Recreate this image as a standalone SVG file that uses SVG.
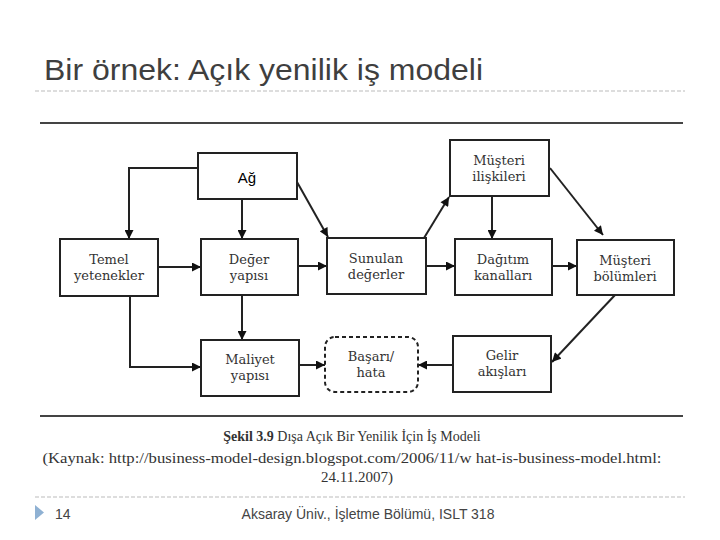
<svg xmlns="http://www.w3.org/2000/svg" width="720" height="540" viewBox="0 0 720 540">
<defs>
<marker id="ah" viewBox="0 0 10 10" refX="10" refY="5" markerWidth="10" markerHeight="9" markerUnits="userSpaceOnUse" orient="auto">
<path d="M0,0 L10,5 L0,10 z" fill="#111"/>
</marker>
<style>
.box{fill:#fff;stroke:#222;stroke-width:2}
.dash{fill:#fff;stroke:#222;stroke-width:2;stroke-dasharray:4 3}
.lbl{font-family:"DejaVu Serif","Liberation Serif",serif;font-size:13px;fill:#333;text-anchor:middle}
.con{fill:none;stroke:#222;stroke-width:2;marker-end:url(#ah)}
.rule{stroke:#444;stroke-width:2}
.sep{stroke:#bbb;stroke-width:1;stroke-dasharray:4 2}
.cap{font-family:"Liberation Serif","DejaVu Serif",serif;font-size:15px;fill:#333;text-anchor:middle}
.cap14{font-size:14px}
.foot{font-family:"Liberation Sans",Arial,sans-serif;font-size:14px;fill:#444}
</style>
</defs>
<rect width="720" height="540" fill="#fff"/>
<text x="44" y="80" font-family="Liberation Sans, Arial, sans-serif" font-size="30" fill="#3f3f3f" textLength="439" lengthAdjust="spacingAndGlyphs">Bir örnek: Açık yenilik iş modeli</text>
<line class="sep" x1="35" y1="91" x2="685" y2="91"/>
<line class="rule" x1="40" y1="123" x2="683" y2="123"/>
<line class="rule" x1="40" y1="416" x2="683" y2="416"/>

<g id="connectors">
<path class="con" d="M198,168 H129 V239"/>
<path class="con" d="M242,199 V239"/>
<path class="con" d="M297,182 L328,237"/>
<path class="con" d="M424,238 L449,197"/>
<path class="con" d="M492,196 V239"/>
<path class="con" d="M550,168 L603,235"/>
<path class="con" d="M158,267 H201"/>
<path class="con" d="M298,266 H327"/>
<path class="con" d="M426,266 H455"/>
<path class="con" d="M552,266 H577"/>
<path class="con" d="M130,296 V367 H201"/>
<path class="con" d="M242,295 V340"/>
<path class="con" d="M299,365 H325"/>
<path class="con" d="M453,365 H418"/>
<path class="con" d="M615,295 L552,362"/>
</g>

<g id="ag"><rect class="box" x="198" y="153" width="99" height="46"/><text x="247" y="183" font-family="Liberation Sans, Arial, sans-serif" font-size="15" fill="#000" text-anchor="middle">Ağ</text></g>
<g id="musteri-iliskileri"><rect class="box" x="450" y="140" width="99" height="56"/><text class="lbl" x="499" y="165">Müşteri</text><text class="lbl" x="499" y="181">ilişkileri</text></g>
<g id="temel"><rect class="box" x="60" y="239" width="98" height="57"/><text class="lbl" x="109" y="264">Temel</text><text class="lbl" x="109" y="280">yetenekler</text></g>
<g id="deger"><rect class="box" x="201" y="239" width="97" height="56"/><text class="lbl" x="249" y="264">Değer</text><text class="lbl" x="249" y="280">yapısı</text></g>
<g id="sunulan"><rect class="box" x="327" y="238" width="99" height="56"/><text class="lbl" x="376" y="263">Sunulan</text><text class="lbl" x="376" y="279">değerler</text></g>
<g id="dagitim"><rect class="box" x="455" y="239" width="97" height="56"/><text class="lbl" x="503" y="264">Dağıtım</text><text class="lbl" x="503" y="280">kanalları</text></g>
<g id="musteri-bolumleri"><rect class="box" x="577" y="240" width="97" height="55"/><text class="lbl" x="625" y="265">Müşteri</text><text class="lbl" x="625" y="281">bölümleri</text></g>
<g id="maliyet"><rect class="box" x="201" y="340" width="98" height="56"/><text class="lbl" x="250" y="364">Maliyet</text><text class="lbl" x="250" y="380">yapısı</text></g>
<g id="basari"><rect class="dash" x="325" y="337" width="93" height="55" rx="10"/><text class="lbl" x="371" y="361">Başarı/</text><text class="lbl" x="371" y="377">hata</text></g>
<g id="gelir"><rect class="box" x="453" y="336" width="98" height="56"/><text class="lbl" x="502" y="360">Gelir</text><text class="lbl" x="502" y="376">akışları</text></g>

<text class="cap cap14" x="352" y="441"><tspan font-weight="bold">Şekil 3.9</tspan> Dışa Açık Bir Yenilik İçin İş Modeli</text>
<text class="cap" x="352" y="463" textLength="619" lengthAdjust="spacingAndGlyphs">(Kaynak: http://business-model-design.blogspot.com/2006/11/w hat-is-business-model.html:</text>
<text class="cap" x="357" y="482">24.11.2007)</text>

<line class="sep" x1="35" y1="497" x2="685" y2="497"/>
<path d="M35,505 L44,512.5 L35,520 z" fill="#8fb1d3"/>
<text class="foot" x="55" y="519">14</text>
<text class="foot" x="368" y="519" text-anchor="middle">Aksaray Üniv., İşletme Bölümü, ISLT 318</text>
</svg>
